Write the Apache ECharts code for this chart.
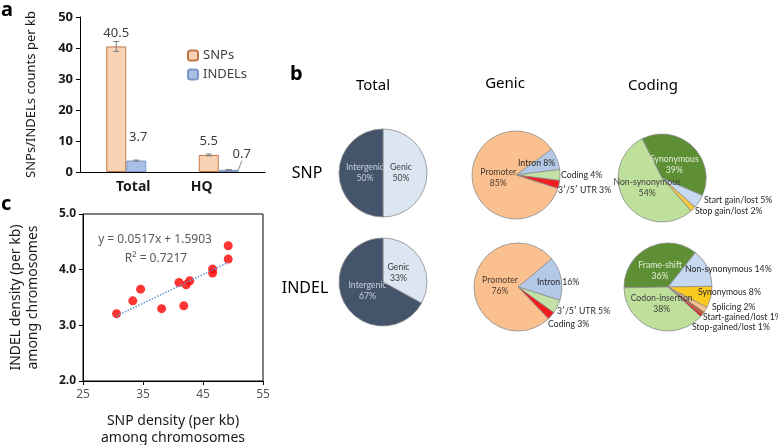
<!DOCTYPE html>
<html><head><meta charset="utf-8">
<script src="https://cdn.jsdelivr.net/npm/echarts@6/dist/echarts.min.js"></script>
<style>html,body{margin:0;padding:0;background:#fff}#c{width:778px;height:445px}</style>
</head><body><div id="c"></div>
<script>
// ---------- Panel a: SNP / INDEL density ----------
const barCategories = ['Total', 'HQ'];
const snpDensity = [40.5, 5.5];
const indelDensity = [3.7, 0.7];
const snpError = [1.6, 0.3];
const indelError = [0.15, 0.05];

// ---------- Panel c: per-chromosome densities ----------
const chrSnpDensity = [30.6, 33.3, 34.6, 38.1, 41.0, 41.8, 42.2, 42.8, 46.6, 46.6, 49.2, 49.2];
const chrIndelDensity = [3.21, 3.44, 3.65, 3.30, 3.77, 3.35, 3.73, 3.80, 4.01, 3.94, 4.43, 4.19];
const trendX = [30.6, 49.2];
const trendY = [3.17, 4.13];
const trendEquation = 'y = 0.0517x + 1.5903';
const trendR2 = 'R² = 0.7217';

// ---------- Panel b: pie charts ----------
const columnTitles = ['Total', 'Genic', 'Coding'];
const rowTitles = ['SNP', 'INDEL'];
const totalSnpNames = ['Genic', 'Intergenic'];
const totalSnpValues = [50, 50];
const totalIndelNames = ['Genic', 'Intergenic'];
const totalIndelValues = [33, 67];
const genicSnpNames = ['Intron', 'Coding', '3′/5′ UTR', 'Promoter'];
const genicSnpValues = [8, 4, 3, 85];
const genicIndelNames = ['Intron', '3′/5′ UTR', 'Coding', 'Promoter'];
const genicIndelValues = [16, 5, 3, 76];
const codingSnpNames = ['Synonymous', 'Start gain/lost', 'Stop gain/lost', 'Non-synonymous'];
const codingSnpValues = [39, 5, 2, 54];
const codingIndelNames = ['Frame-shift', 'Non-synonymous', 'Synonymous', 'Splicing', 'Start-gained/lost', 'Stop-gained/lost', 'Codon-insertion'];
const codingIndelValues = [36, 14, 8, 2, 1, 1, 38];

const FONT = 'Noto Sans';
const PIE_FONT = 'Lato';
const chart = echarts.init(document.getElementById('c'));

function pieSeries(names, values, colors, textColors, center, startAngle, spots) {
  return {
    type: 'pie', center: center, radius: 44, startAngle: startAngle, clockwise: true,
    silent: true, avoidLabelOverlap: false,
    data: names.map((n, i) => ({ name: n, value: values[i], itemStyle: { color: colors[i] }, label: { color: textColors[i] } })),
    itemStyle: { borderColor: '#8C8C8C', borderWidth: 0.8 },
    label: {
      show: true, position: 'inside', fontFamily: PIE_FONT, fontSize: 8.7, lineHeight: 11,
      formatter: p => spots[p.dataIndex] ? p.name + ' ' + p.value + '%' : p.name + '\n' + p.value + '%'
    },
    labelLine: { show: false },
    labelLayout: p => {
      if (spots[p.dataIndex]) {
        return { x: spots[p.dataIndex][0], y: spots[p.dataIndex][1], align: 'left', verticalAlign: 'middle' };
      }
      const r = p.labelRect;
      const mx = r.x + r.width / 2, my = r.y + r.height / 2;
      const k = 0.72;
      return { x: center[0] + (mx - center[0]) * k, y: center[1] + (my - center[1]) * k, align: 'center', verticalAlign: 'middle' };
    }
  };
}

const errorData = barCategories.map((c, i) => [i, snpDensity[i], snpError[i], -1])
  .concat(barCategories.map((c, i) => [i, indelDensity[i], indelError[i], 1]));
const BAR_W = 20;

const option = {
  animation: false,
  textStyle: { fontFamily: FONT },
  grid: [
    { left: 80, top: 17, width: 185, height: 155, outerBoundsMode: 'none', containLabel: false },
    { left: 83, top: 214, width: 180, height: 167, show: true, borderColor: '#000', borderWidth: 1, outerBoundsMode: 'none', containLabel: false }
  ],
  legend: {
    data: ['SNPs', 'INDELs'], orient: 'vertical', left: 182, top: 44, itemWidth: 10, itemHeight: 10, itemGap: 6,
    textStyle: { fontFamily: FONT, fontSize: 13, color: '#404040' }
  },
  xAxis: [
    {
      type: 'category', gridIndex: 0, data: barCategories,
      axisLine: { lineStyle: { color: '#000', width: 1 } }, axisTick: { show: false },
      axisLabel: {
        margin: 8, formatter: v => v === 'Total' ? '{t|' + v + '}' : '{h|' + v + '}',
        rich: {
          t: { fontFamily: FONT, fontSize: 14, fontWeight: 'bold', color: '#1a1a1a', padding: [0, 0, 0, 14] },
          h: { fontFamily: FONT, fontSize: 14, fontWeight: 'bold', color: '#1a1a1a', padding: [0, 34, 0, 0] }
        }
      }
    },
    {
      type: 'value', gridIndex: 1, min: 25, max: 55, interval: 10,
      axisLine: { show: true, lineStyle: { color: '#000' } }, axisTick: { show: true, length: 4, lineStyle: { color: '#000' } },
      splitLine: { show: false },
      axisLabel: { fontSize: 12, color: '#595959', margin: 8 },
      name: 'SNP density (per kb)\namong chromosomes', nameLocation: 'middle', nameGap: 32,
      nameTextStyle: { fontFamily: FONT, fontSize: 14, color: '#1a1a1a', lineHeight: 17 }
    }
  ],
  yAxis: [
    {
      type: 'value', gridIndex: 0, min: 0, max: 50, interval: 10,
      axisLine: { show: true, lineStyle: { color: '#000' } }, axisTick: { show: true, length: 4, lineStyle: { color: '#000' } },
      splitLine: { show: false },
      axisLabel: { fontSize: 13, fontWeight: 'bold', color: '#1a1a1a', margin: 7 },
      name: 'SNPs/INDELs counts per kb', nameLocation: 'middle', nameGap: 42, nameRotate: 90,
      nameTextStyle: { fontFamily: FONT, fontSize: 13, color: '#1a1a1a' }
    },
    {
      type: 'value', gridIndex: 1, min: 2, max: 5, interval: 1,
      axisLine: { show: true, lineStyle: { color: '#000' } }, axisTick: { show: true, length: 4, lineStyle: { color: '#000' } },
      splitLine: { show: false },
      axisLabel: { fontSize: 12, fontWeight: 'bold', color: '#1a1a1a', margin: 7, formatter: v => v.toFixed(1) },
      name: 'INDEL density (per kb)\namong chromosomes', nameLocation: 'middle', nameGap: 41, nameRotate: 90,
      nameTextStyle: { fontFamily: FONT, fontSize: 14, color: '#1a1a1a', lineHeight: 17 }
    }
  ],
  graphic: [
    { type: 'text', left: 1, top: 0, style: { text: 'a', font: 'bold 20px ' + FONT, fill: '#000' } },
    { type: 'text', left: 290, top: 64, style: { text: 'b', font: 'bold 20px ' + FONT, fill: '#000' } },
    { type: 'text', left: 1, top: 194, style: { text: 'c', font: 'bold 20px ' + FONT, fill: '#000' } },
    { type: 'text', x: 373, y: 86, style: { text: columnTitles[0], font: '15px ' + FONT, fill: '#000', align: 'center', verticalAlign: 'middle' } },
    { type: 'text', x: 505, y: 84, style: { text: columnTitles[1], font: '15px ' + FONT, fill: '#000', align: 'center', verticalAlign: 'middle' } },
    { type: 'text', x: 653, y: 86, style: { text: columnTitles[2], font: '15px ' + FONT, fill: '#000', align: 'center', verticalAlign: 'middle' } },
    { type: 'text', x: 307, y: 173, style: { text: rowTitles[0], font: '16px ' + FONT, fill: '#000', align: 'center', verticalAlign: 'middle' } },
    { type: 'text', x: 305, y: 288, style: { text: rowTitles[1], font: '16px ' + FONT, fill: '#000', align: 'center', verticalAlign: 'middle' } },
    { type: 'text', x: 155, y: 240, style: { text: trendEquation, font: '12px ' + FONT, fill: '#595959', align: 'center', verticalAlign: 'middle' } },
    { type: 'text', x: 156, y: 259, style: { text: trendR2, font: '12px ' + FONT, fill: '#595959', align: 'center', verticalAlign: 'middle' } }
  ],
  series: [
    {
      name: 'SNPs', type: 'bar', xAxisIndex: 0, yAxisIndex: 0, barWidth: BAR_W, barGap: '0%',
      data: snpDensity,
      itemStyle: { color: '#FAD3B4', borderColor: '#C0784A', borderWidth: 1 },
      label: { show: true, position: 'top', distance: 7, fontSize: 13, color: '#404040' }
    },
    {
      name: 'INDELs', type: 'bar', xAxisIndex: 0, yAxisIndex: 0, barWidth: BAR_W, barGap: '0%',
      data: [
        { value: indelDensity[0], labelLine: { show: false } },
        { value: indelDensity[1] }
      ],
      itemStyle: { color: '#A8C0E4', borderColor: '#7B96C8', borderWidth: 1 },
      label: { show: true, position: 'top', distance: 6, fontSize: 13, color: '#404040' },
      labelLine: { show: true, lineStyle: { color: '#8C8C8C', width: 1 } },
      labelLayout: p => p.dataIndex === 1 ? { dx: 13, dy: -3 } : { dx: 2, dy: -11 }
    },
    {
      type: 'custom', xAxisIndex: 0, yAxisIndex: 0, silent: true, data: errorData, z: 5,
      renderItem: (params, api) => {
        const c = api.value(0), v = api.value(1), e = api.value(2), side = api.value(3);
        const top = api.coord([c, v + e]), bot = api.coord([c, v - e]);
        const x = top[0] + side * BAR_W / 2;
        const s = { stroke: '#7F7F7F', lineWidth: 1 };
        return { type: 'group', children: [
          { type: 'line', shape: { x1: x, y1: top[1], x2: x, y2: bot[1] }, style: s },
          { type: 'line', shape: { x1: x - 3, y1: top[1], x2: x + 3, y2: top[1] }, style: s },
          { type: 'line', shape: { x1: x - 3, y1: bot[1], x2: x + 3, y2: bot[1] }, style: s }
        ] };
      }
    },
    {
      type: 'line', xAxisIndex: 1, yAxisIndex: 1, symbol: 'none', silent: true,
      data: trendX.map((x, i) => [x, trendY[i]]),
      lineStyle: { color: '#5B9BD5', width: 1.5, type: 'dotted' }
    },
    {
      type: 'scatter', xAxisIndex: 1, yAxisIndex: 1, symbolSize: 9, silent: true,
      data: chrSnpDensity.map((x, i) => [x, chrIndelDensity[i]]),
      itemStyle: { color: '#FF0000' }
    },
    pieSeries(totalSnpNames, totalSnpValues, ['#DCE6F2', '#44546A'], ['#404040', '#C8D0DC'], [383, 173], 90, {}),
    pieSeries(totalIndelNames, totalIndelValues, ['#DCE6F2', '#44546A'], ['#404040', '#C8D0DC'], [383, 282], 90, {}),
    pieSeries(genicSnpNames, genicSnpValues, ['#B4C9E8', '#C4E2A8', '#F01E1E', '#FBC08F'], ['#262626', '#262626', '#262626', '#4A3B30'], [516, 175], 36,
      { 0: [518, 163], 1: [561, 175], 2: [558, 190] }),
    pieSeries(genicIndelNames, genicIndelValues, ['#B4C9E8', '#C4E2A8', '#F01E1E', '#FBC08F'], ['#262626', '#262626', '#262626', '#4A3B30'], [518, 287], 40,
      { 0: [537, 282], 1: [557, 311], 2: [548, 324] }),
    pieSeries(codingSnpNames, codingSnpValues, ['#5E8F35', '#C6D9F1', '#F5C842', '#BEE09A'], ['#E2EED6', '#262626', '#262626', '#404040'], [662, 178], 117,
      { 1: [704, 200], 2: [695, 211] }),
    pieSeries(codingIndelNames, codingIndelValues, ['#5E8F35', '#C6D9F1', '#F9C91F', '#FAC090', '#C0582A', '#E0201C', '#BEE09A'],
      ['#E2EED6', '#262626', '#262626', '#262626', '#262626', '#262626', '#404040'], [668, 287], 181,
      { 1: [685, 269], 2: [698, 292], 3: [712, 307], 4: [703, 317], 5: [692, 327] })
  ]
};
chart.setOption(option);
</script></body></html>
